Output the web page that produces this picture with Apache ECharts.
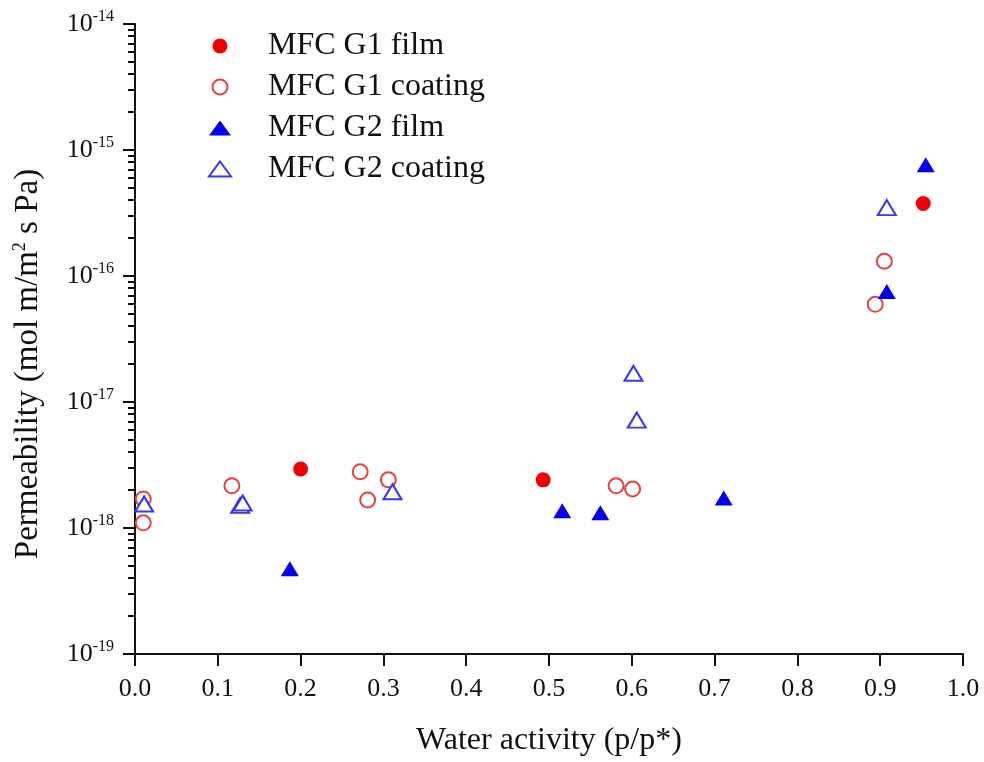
<!DOCTYPE html>
<html>
<head>
<meta charset="utf-8">
<script src="https://cdn.jsdelivr.net/npm/echarts@6/dist/echarts.min.js"></script>
<style>html,body{margin:0;padding:0;background:#fff}#c{width:984px;height:762px}</style>
</head>
<body>
<div id="c"></div>
<script>
// Data: [water activity, permeability]
const g1FilmX = [0.200, 0.493, 0.952];
const g1FilmY = [2.94e-18, 2.41e-18, 3.76e-16];
const g1CoatX = [0.010, 0.010, 0.117, 0.272, 0.281, 0.306, 0.581, 0.601, 0.905, 0.894];
const g1CoatY = [1.70e-18, 1.10e-18, 2.16e-18, 2.79e-18, 1.67e-18, 2.41e-18, 2.16e-18, 2.04e-18, 1.31e-16, 5.96e-17];
const g2FilmX = [0.187, 0.516, 0.562, 0.711, 0.908, 0.955];
const g2FilmY = [4.75e-19, 1.37e-18, 1.32e-18, 1.73e-18, 7.55e-17, 7.65e-16];
const g2CoatX = [0.011, 0.127, 0.130, 0.311, 0.602, 0.606, 0.908];
const g2CoatY = [1.55e-18, 1.51e-18, 1.58e-18, 1.94e-18, 1.69e-17, 7.19e-18, 3.49e-16];
const xTicks = [0.0, 0.1, 0.2, 0.3, 0.4, 0.5, 0.6, 0.7, 0.8, 0.9, 1.0];
const yMajor = [1e-19, 1e-18, 1e-17, 1e-16, 1e-15, 1e-14];
const seriesNames = ['MFC G1 film', 'MFC G1 coating', 'MFC G2 film', 'MFC G2 coating'];

const zip = (xs, ys) => xs.map((x, i) => [x, ys[i]]);
const yMinor = [];
for (let e = -19; e < -14; e++) for (let k = 2; k <= 9; k++) yMinor.push(+(k + 'e' + e));

const font = '"Liberation Serif", "Times New Roman", serif';
const ink = '#111';
const chart = echarts.init(document.getElementById('c'));
const yBase = {
  type: 'log', logBase: 10, min: 1e-19, max: 1e-14, splitLine: {show: false}
};
chart.setOption({
  animation: false,
  backgroundColor: '#fff',
  textStyle: {fontFamily: font},
  grid: {left: 135, right: 21, top: 24, bottom: 107},
  legend: {
    orient: 'vertical', left: 203, top: 25, itemGap: 9, itemWidth: 22, itemHeight: 15,
    data: seriesNames,
    textStyle: {fontFamily: font, fontSize: 32, lineHeight: 32, color: ink, padding: [0, 0, 0, 32]}
  },
  xAxis: {
    type: 'value', min: 0, max: 1, interval: 0.1,
    name: 'Water activity (p/p*)', nameLocation: 'middle', nameGap: 71,
    nameTextStyle: {fontFamily: font, fontSize: 32, color: ink},
    axisLine: {lineStyle: {color: ink, width: 2}},
    axisTick: {length: 12, lineStyle: {color: ink, width: 2}},
    axisLabel: {fontFamily: font, fontSize: 26, color: ink, margin: 22,
      formatter: v => v.toFixed(1)},
    splitLine: {show: false}
  },
  yAxis: [
    Object.assign({}, yBase, {
      name: 'Permeability (mol m/m{sup|2} s Pa)', nameLocation: 'middle', nameGap: 90, nameRotate: 90,
      nameTextStyle: {fontFamily: font, fontSize: 33, color: ink, padding: [0, 50, 0, 0],
        rich: {sup: {fontFamily: font, fontSize: 18, color: ink, verticalAlign: 'bottom', padding: [0, 0, 16, 0]}}},
      axisLine: {show: true, lineStyle: {color: ink, width: 2}},
      axisTick: {show: true, length: 12, lineStyle: {color: ink, width: 2}, customValues: yMajor},
      axisLabel: {
        customValues: yMajor, margin: 21,
        formatter: v => '{b|10}{s|' + Math.round(Math.log10(v)) + '}',
        rich: {
          b: {fontFamily: font, fontSize: 26, color: ink},
          s: {fontFamily: font, fontSize: 16, color: ink, verticalAlign: 'bottom', padding: [0, 0, 15, 0]}
        }
      }
    }),
    Object.assign({}, yBase, {
      position: 'left',
      axisLine: {show: false},
      axisTick: {show: true, length: 7, lineStyle: {color: ink, width: 2}, customValues: yMinor},
      axisLabel: {show: false}
    })
  ],
  series: [
    {name: seriesNames[0], type: 'scatter', symbol: 'circle', symbolSize: 15,
      itemStyle: {color: '#f00000', opacity: 1}, data: zip(g1FilmX, g1FilmY)},
    {name: seriesNames[1], type: 'scatter', symbol: 'emptyCircle', symbolSize: 15,
      itemStyle: {color: '#e84040', borderWidth: 1.6, opacity: 1}, data: zip(g1CoatX, g1CoatY)},
    {name: seriesNames[2], type: 'scatter', symbol: 'triangle', symbolSize: [18, 15],
      itemStyle: {color: '#0000f0', opacity: 1}, data: zip(g2FilmX, g2FilmY)},
    {name: seriesNames[3], type: 'scatter', symbol: 'emptyTriangle', symbolSize: [18, 15],
      itemStyle: {color: '#3838f0', borderWidth: 1.6, opacity: 1}, data: zip(g2CoatX, g2CoatY)}
  ]
});
</script>
</body>
</html>
